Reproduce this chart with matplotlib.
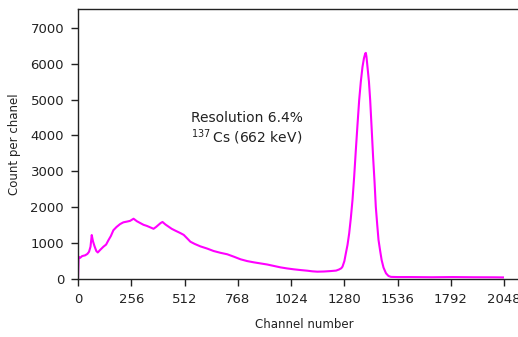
import numpy as np
import matplotlib
matplotlib.use("Agg")
import matplotlib.pyplot as plt

# spectrum (channel, counts)
channels = [0, 3, 10, 20, 34, 45, 53, 60, 66, 72, 79, 88, 95, 108, 122, 135,
            146, 158, 170, 185, 202, 218, 235, 250, 267, 283, 299, 315, 331,
            347, 363, 375, 387, 397, 406, 420, 435, 450, 467, 492, 508, 525,
            540, 560, 588, 620, 652, 685, 717, 750, 781, 813, 845, 877, 909,
            941, 973, 1005, 1038, 1070, 1102, 1126, 1150, 1182, 1214, 1240,
            1254, 1265, 1271, 1280, 1287, 1295, 1303, 1311, 1319, 1327, 1335,
            1343, 1351, 1359, 1367, 1374, 1380, 1383, 1386, 1391, 1398, 1404,
            1411, 1418, 1425, 1431, 1438, 1444, 1452, 1459, 1468, 1480, 1492,
            1504, 1536, 1600, 1700, 1800, 1900, 2000, 2042]
counts = [0, 620, 590, 640, 660, 700, 760, 900, 1225, 1050, 920, 780, 740,
          820, 900, 960, 1080, 1200, 1360, 1450, 1530, 1580, 1600, 1620, 1680,
          1610, 1560, 1510, 1480, 1440, 1400, 1450, 1510, 1560, 1590, 1520,
          1460, 1400, 1350, 1280, 1230, 1130, 1040, 980, 910, 850, 780, 730,
          690, 620, 550, 500, 465, 435, 405, 365, 325, 295, 270, 250, 232, 215,
          205, 210, 222, 235, 265, 300, 345, 500, 715, 950, 1270, 1700, 2200,
          2850, 3590, 4300, 4980, 5500, 5910, 6150, 6280, 6300, 6200, 5910,
          5500, 4980, 4200, 3400, 2700, 2010, 1500, 1090, 780, 530, 320, 160,
          85, 60, 55, 55, 50, 55, 50, 48, 45]

xticks = [0, 256, 512, 768, 1024, 1280, 1536, 1792, 2048]
yticks = [0, 1000, 2000, 3000, 4000, 5000, 6000, 7000]

plt.rcParams['font.family'] = ['DejaVu Sans']
plt.rcParams['mathtext.default'] = 'regular'

fig = plt.figure(figsize=(5.18, 3.37), dpi=100)
ax = fig.add_axes([0.1506, 0.172, 0.875, 0.801])

ax.plot(channels, counts, color='#ff00ff', lw=1.5)

ax.set_xlim(0, 2178)
ax.set_ylim(0, 7520)
ax.set_xticks(xticks)
ax.set_yticks(yticks)
ax.tick_params(direction='out', length=5, width=1, labelsize=9.5,
               colors='#222222', pad=5)
for s in ax.spines.values():
    s.set_color('#222222')
    s.set_linewidth(1)

ax.set_xlabel("Channel number", fontsize=8.5, color='#222222', labelpad=9)
ax.set_ylabel("Count per chanel", fontsize=8.5, color='#222222', labelpad=7)

ax.text(545, 4381, "Resolution 6.4%", fontsize=10, color='#222222',
        va='baseline')
ax.text(545, 3796, r"$^{137}\,$Cs (662 keV)", fontsize=10, color='#222222',
        va='baseline')

fig.savefig("out.png", dpi=100)
